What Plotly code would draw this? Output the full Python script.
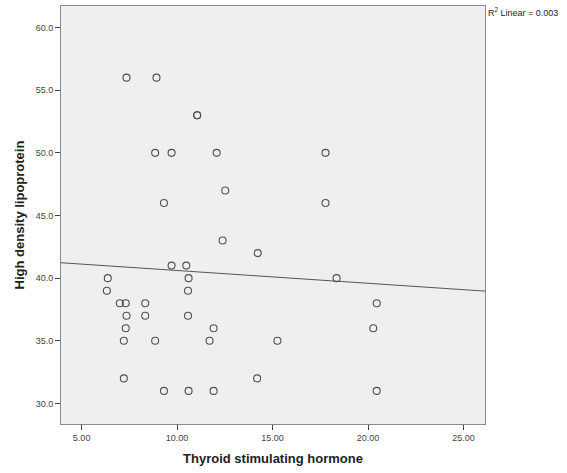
import plotly.graph_objects as go

tsh = [7.35, 8.92, 11.05, 11.05, 8.85, 9.71, 12.07, 12.52, 9.31, 12.38, 14.22,
       17.77, 17.77, 18.35, 20.45, 20.27, 20.45,
       9.71, 10.48, 6.37, 10.60, 6.32, 10.57, 7.00, 7.31, 8.33, 7.35, 8.33, 10.57,
       7.31, 11.91, 7.21, 8.85, 11.70, 15.25, 7.21, 14.19, 9.31, 10.60, 11.91]
hdl = [56, 56, 53, 53, 50, 50, 50, 47, 46, 43, 42,
       50, 46, 40, 38, 36, 31,
       41, 41, 40, 40, 39, 39, 38, 38, 38, 37, 37, 37,
       36, 36, 35, 35, 35, 35, 32, 32, 31, 31, 31]

fit_intercept = 41.63
fit_slope = -0.102
x_range = [3.92, 26.12]
y_range = [28.36, 61.72]
r2_text = "R<sup>2</sup> Linear = 0.003"

fig = go.Figure()
fig.add_trace(go.Scatter(
    x=x_range,
    y=[fit_intercept + fit_slope * v for v in x_range],
    mode="lines", line=dict(color="#555555", width=1), hoverinfo="skip",
    showlegend=False))
fig.add_trace(go.Scatter(
    x=tsh, y=hdl, mode="markers",
    marker=dict(symbol="circle-open", size=7, color="#505050", line=dict(width=1.1)),
    showlegend=False))

fig.update_layout(
    width=567, height=473,
    margin=dict(l=61, r=82, t=6, b=49),
    paper_bgcolor="white", plot_bgcolor="#EEEFF1",
    font=dict(family="Liberation Sans, Arial, sans-serif", size=9, color="#444444"),
    showlegend=False,
)
fig.update_xaxes(
    range=x_range, tickvals=[5, 10, 15, 20, 25], tickformat=".2f",
    showgrid=False, zeroline=False, showline=True, mirror=True,
    linecolor="#8a8a8a", linewidth=1, ticks="outside", ticklen=5, tickcolor="#444444",
    title=dict(text="<b>Thyroid stimulating hormone</b>", font=dict(size=13, color="#222222"), standoff=12),
)
fig.update_yaxes(
    range=y_range, tickvals=[30, 35, 40, 45, 50, 55, 60], tickformat=".1f",
    showgrid=False, zeroline=False, showline=True, mirror=True,
    linecolor="#8a8a8a", linewidth=1, ticks="outside", ticklen=5, tickcolor="#444444",
    title=dict(text="<b>High density lipoprotein</b>", font=dict(size=13, color="#222222"), standoff=8),
)
fig.add_annotation(
    text=r2_text, xref="paper", yref="paper", x=1.0, y=1.0,
    xanchor="left", yanchor="top", showarrow=False, xshift=1, yshift=2,
    font=dict(size=9, color="#222222"))

fig.write_html("out.html", config={"displayModeBar": False},
               post_script="document.body.style.margin='0';document.body.style.overflow='hidden';")
